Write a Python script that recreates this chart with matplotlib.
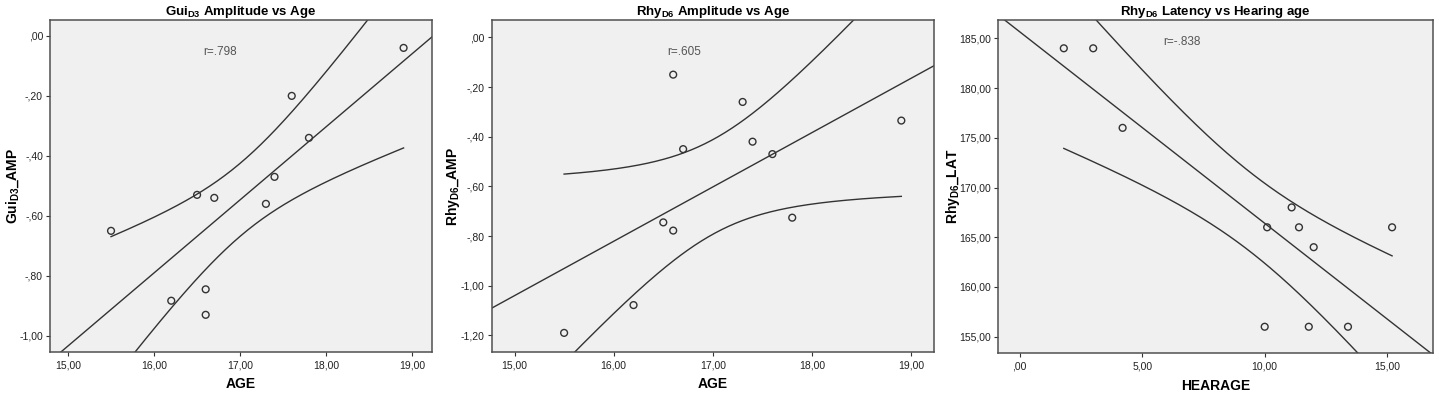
import numpy as np
import matplotlib
matplotlib.use("Agg")
import matplotlib.pyplot as plt
from matplotlib.ticker import FuncFormatter

plt.rcParams['font.family'] = ['Liberation Sans', 'DejaVu Sans']
plt.rcParams['mathtext.default'] = 'regular'

# data
age = [18.9, 17.6, 17.8, 17.4, 16.5, 16.7, 17.3, 15.5, 16.6, 16.2, 16.6]
gui_amp = [-0.04, -0.20, -0.34, -0.47, -0.53, -0.54, -0.56, -0.65, -0.845, -0.883, -0.93]

age2 = [16.6, 17.3, 18.9, 17.4, 16.7, 17.6, 16.5, 16.6, 17.8, 16.2, 15.5]
rhy_amp = [-0.15, -0.26, -0.335, -0.42, -0.45, -0.47, -0.745, -0.778, -0.726, -1.078, -1.19]

hearage = [1.8, 3.0, 4.2, 11.1, 10.1, 11.4, 15.2, 12.0, 10.0, 11.8, 13.4]
rhy_lat = [184, 184, 176, 168, 166, 166, 166, 164, 156, 156, 156]

titles = [r'Gui$_{D3}$ Amplitude vs Age',
          r'Rhy$_{D6}$ Amplitude vs Age',
          r'Rhy$_{D6}$ Latency vs Hearing age']
xlabels = ['AGE', 'AGE', 'HEARAGE']
ylabels = [r'Gui$_{D3}$_AMP', r'Rhy$_{D6}$_AMP', r'Rhy$_{D6}$_LAT']
r_text = ['r=.798', 'r=.605', 'r=-.838']
r_pos = [(16.77, -0.053), (16.71, -0.06), (6.62, 184.6)]
xlims = [(14.79, 19.23), (14.77, 19.23), (-0.9, 16.88)]
ylims = [(-1.054, 0.053), (-1.267, 0.07), (153.33, 186.84)]
xticks = [[15, 16, 17, 18, 19], [15, 16, 17, 18, 19], [0, 5, 10, 15]]
yticks = [[-1.0, -0.8, -0.6, -0.4, -0.2, 0.0],
          [-1.2, -1.0, -0.8, -0.6, -0.4, -0.2, 0.0],
          [155, 160, 165, 170, 175, 180, 185]]
boxes = [[0.0347, 0.1043, 0.2655, 0.8448],
         [0.3417, 0.1043, 0.3074, 0.8448],
         [0.6933, 0.101, 0.3027, 0.848]]
ylabel_x = [-0.097, -0.088, -0.103]

T975 = {9: 2.262, 10: 2.228}


def comma_fmt(v, pos):
    s = '%.2f' % v
    if s.startswith('-0.'):
        s = '-' + s[2:]
    elif s.startswith('0.'):
        s = s[1:]
    return s.replace('.', ',')


fig = plt.figure(figsize=(14.39, 3.93), dpi=100)
datasets = [(age, gui_amp), (age2, rhy_amp), (hearage, rhy_lat)]
line_col = '#333333'

for i, (xs, ys) in enumerate(datasets):
    ax = fig.add_axes(boxes[i])
    x = np.array(xs, dtype=float)
    y = np.array(ys, dtype=float)
    n = len(x)
    # least squares fit and 95% confidence band of the mean
    b, a = np.polyfit(x, y, 1)
    resid = y - (a + b * x)
    s = np.sqrt(np.sum(resid ** 2) / (n - 2))
    sxx = np.sum((x - x.mean()) ** 2)
    t = T975.get(n - 2, 2.2)

    xf = np.linspace(xlims[i][0], xlims[i][1], 200)
    ax.plot(xf, a + b * xf, color=line_col, lw=1.0)
    xc = np.linspace(x.min(), x.max(), 200)
    half = t * s * np.sqrt(1.0 / n + (xc - x.mean()) ** 2 / sxx)
    ax.plot(xc, a + b * xc + half, color=line_col, lw=1.0)
    ax.plot(xc, a + b * xc - half, color=line_col, lw=1.0)

    ax.scatter(x, y, s=24, facecolors='none', edgecolors='#333333', linewidths=1.0, zorder=3)

    ax.set_facecolor('#f0f0f0')
    for side in ax.spines.values():
        side.set_color('#505050')
        side.set_linewidth(1.1)
    ax.set_xlim(*xlims[i])
    ax.set_ylim(*ylims[i])
    ax.set_xticks(xticks[i])
    ax.set_yticks(yticks[i])
    ax.xaxis.set_major_formatter(FuncFormatter(comma_fmt))
    ax.yaxis.set_major_formatter(FuncFormatter(comma_fmt))
    ax.tick_params(direction='out', length=3, width=0.8, color='#333333',
                   labelsize=7.5, pad=2, labelcolor='#222222')
    ax.tick_params(axis='x', pad=3)

    ax.set_title(titles[i], fontsize=9.5, fontweight='bold', pad=3)
    ax.set_xlabel(xlabels[i], fontsize=10, fontweight='bold', labelpad=5)
    ax.set_ylabel(ylabels[i], fontsize=10, fontweight='bold', va='center')
    ax.yaxis.set_label_coords(ylabel_x[i], 0.5)
    ax.text(r_pos[i][0], r_pos[i][1], r_text[i], fontsize=8.5, color='#555555',
            ha='center', va='center')

fig.savefig('out.png', dpi=100)
